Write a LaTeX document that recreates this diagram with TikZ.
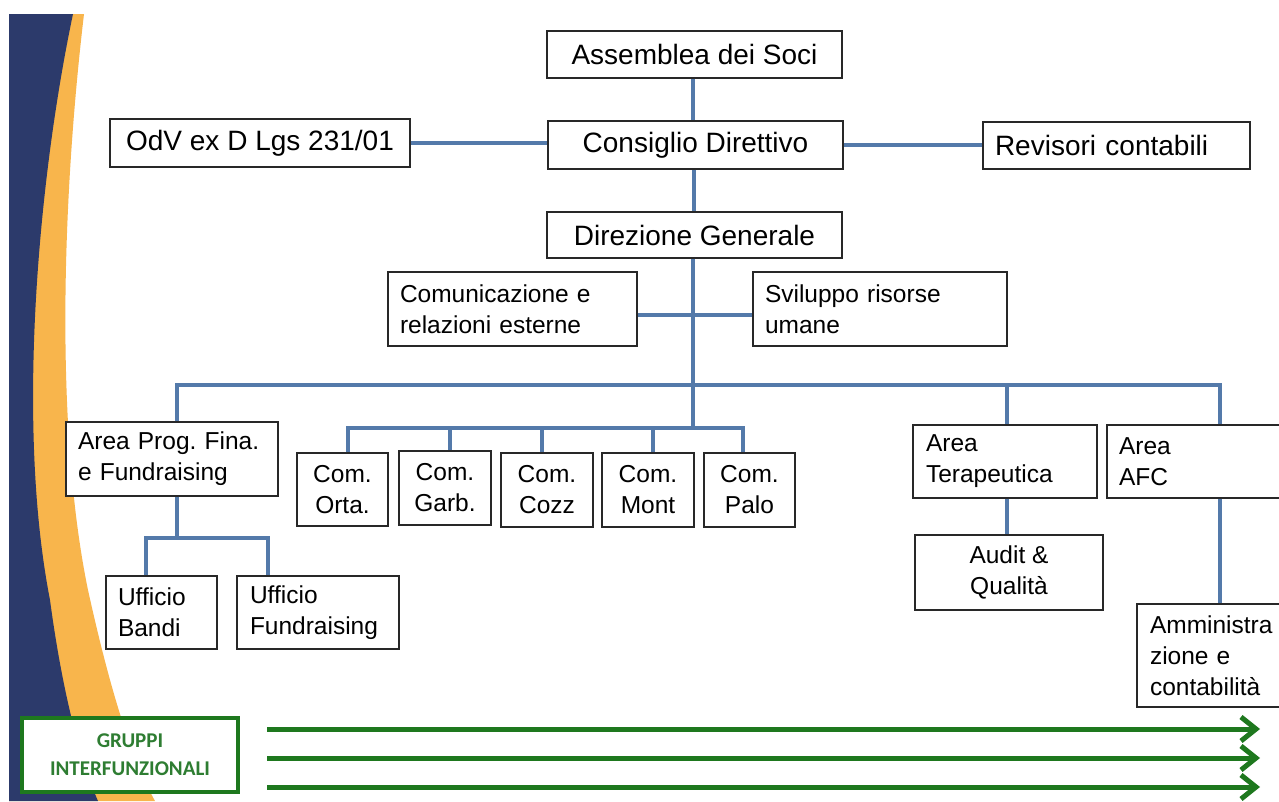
\documentclass[tikz,border=0pt]{standalone}
\usepackage{fontspec}
\setmainfont{Liberation Sans}
\newfontfamily\gfont{Carlito}
\usetikzlibrary{arrows.meta,calc}
\definecolor{navy}{RGB}{44,58,107}
\definecolor{gold}{RGB}{248,181,76}
\definecolor{conn}{RGB}{84,122,170}
\definecolor{boxc}{RGB}{40,40,40}
\definecolor{grn}{RGB}{30,120,30}
\definecolor{grntext}{RGB}{46,125,50}
\tikzset{
  bx/.style={draw=boxc, line width=1.3pt, fill=white, inner sep=0pt, text=black,
    font=\frenchspacing\fontsize{24.5}{31}\selectfont},
  big/.style={bx, font=\frenchspacing\fontsize{28}{32}\selectfont},
  ln/.style={draw=conn, line width=4pt},
  gbox/.style={draw=grn, line width=4pt, fill=white, inner sep=0pt, text=grntext,
    align=center, font=\gfont\bfseries\fontsize{21}{28}\selectfont},
  garrow/.style={draw=grn, line width=5pt, -{Straight Barb[length=15pt,width=24pt]}}
}
\begin{document}
\begin{tikzpicture}[x=1pt,y=-1pt]
\useasboundingbox (0,0) rectangle (1279,801);
\clip (0,0) rectangle (1279,801);
\fill[white] (0,0) rectangle (1279,801);
% background bands
\fill[gold] (9,14) -- (84,14) .. controls (62,200) and (55,430) .. (88,590)
  .. controls (110,690) and (132,760) .. (155,801) -- (9,801) -- cycle;
\fill[navy] (9,14) -- (73,14) .. controls (40,170) and (15,420) .. (50,600)
  .. controls (62,690) and (80,760) .. (98,801) -- (9,801) -- cycle;

% boxes
\node[big, minimum width=295, minimum height=47] (asm) at (694.5,54.5) {Assemblea dei Soci};
\node[big, minimum width=295, minimum height=48] (con) at (695.5,145) {Consiglio Direttivo};
\node[big, minimum width=295, minimum height=46] (dir) at (694.5,235) {Direzione Generale};
\node[big, minimum width=300, minimum height=48] (odv) at (260,143) {OdV ex D Lgs 231/01};
\node[big, minimum width=267, minimum height=47, text width=243pt, align=left] (rev) at (1116.5,145.5) {Revisori contabili};
\node[bx, minimum width=249, minimum height=74, text width=225pt, align=left] (com) at (512.5,309) {Comunicazione e\\relazioni esterne};
\node[bx, minimum width=254, minimum height=74, text width=230pt, align=left] (svi) at (880,309) {Sviluppo risorse\\umane};
\node[bx, minimum width=212, minimum height=74, text width=188pt, align=left] (apf) at (172,459) {Area Prog. Fina.\\e Fundraising};
\node[bx, minimum width=91, minimum height=73, align=center] (orta) at (342.5,489.5) {Com.\\Orta.};
\node[bx, minimum width=92, minimum height=74, align=center] (garb) at (445,488) {Com.\\Garb.};
\node[bx, minimum width=92, minimum height=74, align=center] (cozz) at (547,490) {Com.\\Cozz};
\node[bx, minimum width=92, minimum height=74, align=center] (mont) at (648,490) {Com.\\Mont};
\node[bx, minimum width=91, minimum height=74, align=center] (palo) at (749.5,490) {Com.\\Palo};
\node[bx, minimum width=184, minimum height=73, text width=158pt, align=left] (ter) at (1005,461.5) {Area\\Terapeutica};
\node[bx, minimum width=193, minimum height=73, text width=169pt, align=left] (afc) at (1203.5,461.5) {Area\\AFC};
\node[bx, minimum width=188, minimum height=75, align=center] (aud) at (1009,572.5) {Audit \&\\Qualità};
\node[bx, minimum width=163, minimum height=103, text width=137pt, align=left] (amm) at (1218.5,655.5) {Amministra\\zione e\\contabilità};
\node[bx, minimum width=111, minimum height=73, text width=87pt, align=left] (ubn) at (161.5,612.5) {Ufficio\\Bandi};
\node[bx, minimum width=162, minimum height=73, text width=136pt, align=left] (ufr) at (318,612.5) {Ufficio\\Fundraising};

% coordinates
\coordinate (busR) at (1220,385);
\coordinate (sbL) at (348,428);
\coordinate (sbR) at (743,428);
\coordinate (uL) at (146,538);
\coordinate (uR) at (268,538);

% connectors
\draw[ln] ([xshift=-1.5pt]asm.south) -- ([xshift=-1.5pt]asm.south |- con.north);
\draw[ln] ([xshift=-1.5pt]con.south) -- ([xshift=-1.5pt]con.south |- dir.north);
\draw[ln] (odv.east) -- (odv.east -| con.west);
\draw[ln] (con.east) -- (con.east -| rev.west);
\draw[ln] ([xshift=-1.5pt]dir.south) -- ([xshift=-1.5pt]dir.south |- sbL);
\draw[ln] ([yshift=-6pt]com.east) -- ([yshift=-6pt]com.east -| svi.west);
\draw[ln] ([xshift=5pt]apf.north) |- (busR) -- (busR |- afc.north);
\draw[ln] ([xshift=2pt]ter.north |- busR) -- ([xshift=2pt]ter.north);
\draw[ln] (sbL |- orta.north) |- (sbR) -- (sbR |- palo.north);
\draw[ln] ([xshift=5pt]garb.north |- sbL) -- ([xshift=5pt]garb.north);
\draw[ln] ([xshift=-5pt]cozz.north |- sbL) -- ([xshift=-5pt]cozz.north);
\draw[ln] ([xshift=5pt]mont.north |- sbL) -- ([xshift=5pt]mont.north);
\draw[ln] ([xshift=5pt]apf.south) -- ([xshift=5pt]apf.south |- uL);
\draw[ln] (uL |- ubn.north) |- (uR) -- (uR |- ufr.north);
\draw[ln] ([xshift=2pt]ter.south) -- ([xshift=2pt]ter.south |- aud.north);
\draw[ln] (busR |- afc.south) -- (busR |- amm.north);

% interfunctional groups
\node[gbox, minimum width=216, minimum height=74] (grp) at (130,755) {GRUPPI\\INTERFUNZIONALI};
\coordinate (a1s) at (267,729); \coordinate (a1e) at (1260,729);
\coordinate (a2s) at (267,758); \coordinate (a2e) at (1260,758);
\coordinate (a3s) at (267,787); \coordinate (a3e) at (1260,787);
\draw[garrow] (a1s) -- (a1e);
\draw[garrow] (a2s) -- (a2e);
\draw[garrow] (a3s) -- (a3e);
\end{tikzpicture}
\end{document}
